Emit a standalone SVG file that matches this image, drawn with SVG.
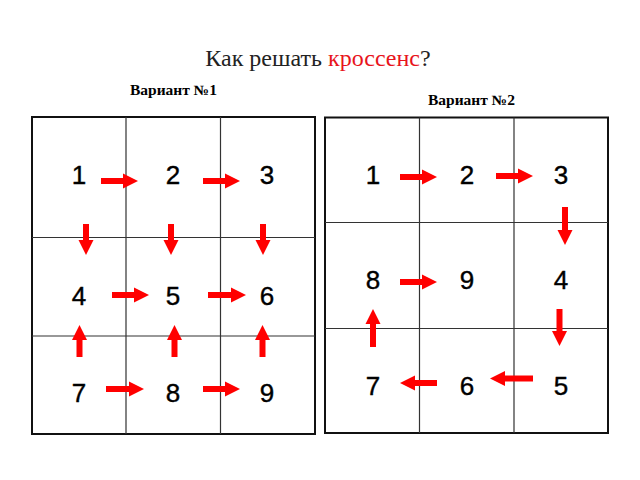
<svg xmlns="http://www.w3.org/2000/svg" width="640" height="480" viewBox="0 0 640 480">
  <style>
    .title { font-family: "Liberation Serif", "Times New Roman", serif; font-size: 24px; fill: #222; }
    .red { fill: #e8141c; }
    .var { font-family: "Liberation Serif", "Times New Roman", serif; font-size: 14px; font-weight: bold; fill: #000; }
    .num { font-family: "Liberation Sans", Arial, sans-serif; font-size: 26px; fill: #000; text-anchor: middle; stroke: #000; stroke-width: 0.4; }
    .outer { fill: #fff; stroke: #111; stroke-width: 2; }
    .inner { stroke: #333; stroke-width: 1.2; fill: none; }
    .arr { stroke: #ff0000; stroke-width: 6; fill: none; marker-end: url(#head); }
  </style>
  <defs>
    <marker id="head" markerUnits="userSpaceOnUse" markerWidth="16" markerHeight="16" refX="0" refY="8" orient="auto" viewBox="0 0 16 16">
      <path d="M0,0.5 L15,8 L0,15.5 Z" fill="#ff0000"/>
    </marker>
  </defs>
  <rect width="640" height="480" fill="#fff"/>

  <text class="title" x="318" y="66" text-anchor="middle">Как решать <tspan class="red">кроссенс</tspan>?</text>
  <text class="var" x="130" y="94.5" textLength="87" lengthAdjust="spacingAndGlyphs">Вариант №1</text>
  <text class="var" x="428" y="104.5" textLength="87" lengthAdjust="spacingAndGlyphs">Вариант №2</text>

  <g id="grid1">
    <rect class="outer" x="32" y="117" width="283" height="317"/>
    <path class="inner" d="M126,117 V434 M220.5,117 V434 M32,237.5 H315 M32,336 H315"/>
  </g>
  <g id="grid2">
    <rect class="outer" x="325" y="117.5" width="283" height="315.5"/>
    <path class="inner" d="M419.5,117.5 V433 M514,117.5 V433 M325,222.5 H608 M325,328.5 H608"/>
  </g>

  <g id="nodes1">
    <g id="v1n1"><text class="num" x="79" y="184">1</text></g>
    <g id="v1n2"><text class="num" x="173" y="184">2</text></g>
    <g id="v1n3"><text class="num" x="267" y="184">3</text></g>
    <g id="v1n4"><text class="num" x="79" y="305">4</text></g>
    <g id="v1n5"><text class="num" x="173" y="305">5</text></g>
    <g id="v1n6"><text class="num" x="267" y="305">6</text></g>
    <g id="v1n7"><text class="num" x="79" y="402">7</text></g>
    <g id="v1n8"><text class="num" x="173" y="402">8</text></g>
    <g id="v1n9"><text class="num" x="267" y="402">9</text></g>
  </g>
  <g id="nodes2">
    <g id="v2n1"><text class="num" x="373" y="184">1</text></g>
    <g id="v2n2"><text class="num" x="467" y="184">2</text></g>
    <g id="v2n3"><text class="num" x="561" y="184">3</text></g>
    <g id="v2n8"><text class="num" x="373" y="289">8</text></g>
    <g id="v2n9"><text class="num" x="467" y="289">9</text></g>
    <g id="v2n4"><text class="num" x="561" y="289">4</text></g>
    <g id="v2n7"><text class="num" x="373" y="395">7</text></g>
    <g id="v2n6"><text class="num" x="467" y="395">6</text></g>
    <g id="v2n5"><text class="num" x="561" y="395">5</text></g>
  </g>

  <g id="connectors">
    <!-- variant 1 -->
    <line class="arr" x1="101" y1="181" x2="123" y2="181"/>
    <line class="arr" x1="203" y1="181" x2="225" y2="181"/>
    <line class="arr" x1="86" y1="224" x2="86" y2="240"/>
    <line class="arr" x1="171" y1="224" x2="171" y2="240"/>
    <line class="arr" x1="263" y1="224" x2="263" y2="240"/>
    <line class="arr" x1="112" y1="295" x2="134" y2="295"/>
    <line class="arr" x1="208" y1="295" x2="231" y2="295"/>
    <line class="arr" x1="79.5" y1="357" x2="79.5" y2="340"/>
    <line class="arr" x1="174.5" y1="357" x2="174.5" y2="340"/>
    <line class="arr" x1="262.5" y1="357" x2="262.5" y2="340"/>
    <line class="arr" x1="106" y1="389" x2="129" y2="389"/>
    <line class="arr" x1="203" y1="389" x2="225" y2="389"/>
    <!-- variant 2 -->
    <line class="arr" x1="400" y1="177" x2="422" y2="177"/>
    <line class="arr" x1="496" y1="176" x2="518" y2="176"/>
    <line class="arr" x1="565" y1="207" x2="565" y2="230"/>
    <line class="arr" x1="559.5" y1="309" x2="559.5" y2="331"/>
    <line class="arr" x1="533" y1="378.5" x2="505" y2="378.5"/>
    <line class="arr" x1="437" y1="383" x2="415" y2="383"/>
    <line class="arr" x1="373" y1="347" x2="373" y2="324"/>
    <line class="arr" x1="400" y1="282" x2="422" y2="282"/>
  </g>
</svg>
